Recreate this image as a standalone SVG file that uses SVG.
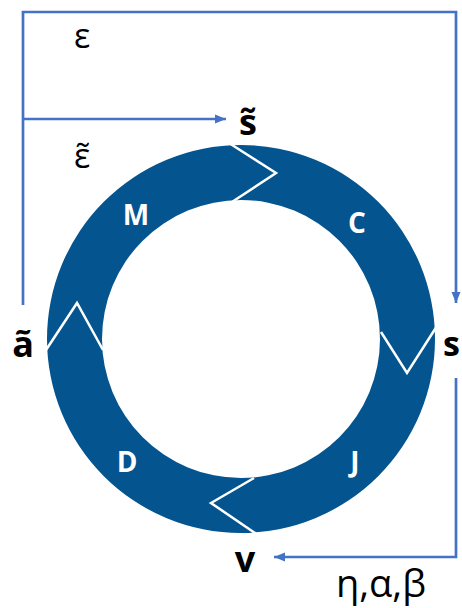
<svg xmlns="http://www.w3.org/2000/svg" width="462" height="608" viewBox="0 0 462 608">
<defs>
<style>
.conn{fill:none;stroke:#4472C4;stroke-width:2.7}
.lbl{font-family:"Open Sans","Noto Sans","DejaVu Sans",sans-serif;fill:#000}
.b{font-weight:bold}
.ring{fill:#03548F;fill-rule:evenodd}
.cut{fill:none;stroke:#fff;stroke-width:2.5;stroke-linejoin:miter}
.seg{font-family:"Open Sans","Noto Sans",sans-serif;font-weight:bold;fill:#fff;font-size:28px;text-anchor:middle}
</style>
<marker id="ah" markerUnits="userSpaceOnUse" markerWidth="12" markerHeight="12" viewBox="0 0 12 12" refX="11" refY="6" orient="auto">
<path d="M0,1.5 L11,6 L0,10.5 Z" fill="#4472C4"/>
</marker>
</defs>
<g id="cycle">
<path class="ring" d="M241,145 A194,194 0 1 1 241,533 A194,194 0 1 1 241,145 Z M241,200 A139,139 0 1 0 241,478 A139,139 0 1 0 241,200 Z"/>
<polyline class="cut" points="229,143 276,173 232,202"/>
<polyline class="cut" points="381,332 407,373 437,326"/>
<polyline class="cut" points="254,478 211,503 258,535"/>
<polyline class="cut" points="46,350 77,303 103,350"/>
</g>
<g id="node-M"><text class="seg" x="136" y="225">M</text></g>
<g id="node-C"><text class="seg" x="357" y="233">C</text></g>
<g id="node-J"><text class="seg" x="355" y="472">J</text></g>
<g id="node-D"><text class="seg" x="127" y="472">D</text></g>
<g id="node-s-tilde"><text class="lbl b" x="248" y="135" font-size="36" text-anchor="middle">s̃</text></g>
<g id="node-a-tilde"><text class="lbl b" x="23" y="357" font-size="36" text-anchor="middle">ã</text></g>
<g id="node-s"><text class="lbl b" x="443" y="356" font-size="34">s</text></g>
<g id="node-v"><text class="lbl b" x="245" y="572" font-size="36" text-anchor="middle">v</text></g>
<g id="connectors">
<polyline class="conn" points="23,305 23,12 456,12 456,303" marker-end="url(#ah)"/>
<polyline class="conn" points="23,119 226,119" marker-end="url(#ah)"/>
<polyline class="conn" points="456,378 456,557 274,557" marker-end="url(#ah)"/>
<text class="lbl" x="82" y="48" font-size="34" text-anchor="middle">ε</text>
<text class="lbl" x="82" y="168" font-size="34" text-anchor="middle">ε̃</text>
<text class="lbl" x="381" y="597" font-size="38" text-anchor="middle">η,α,β</text>
</g>
</svg>
